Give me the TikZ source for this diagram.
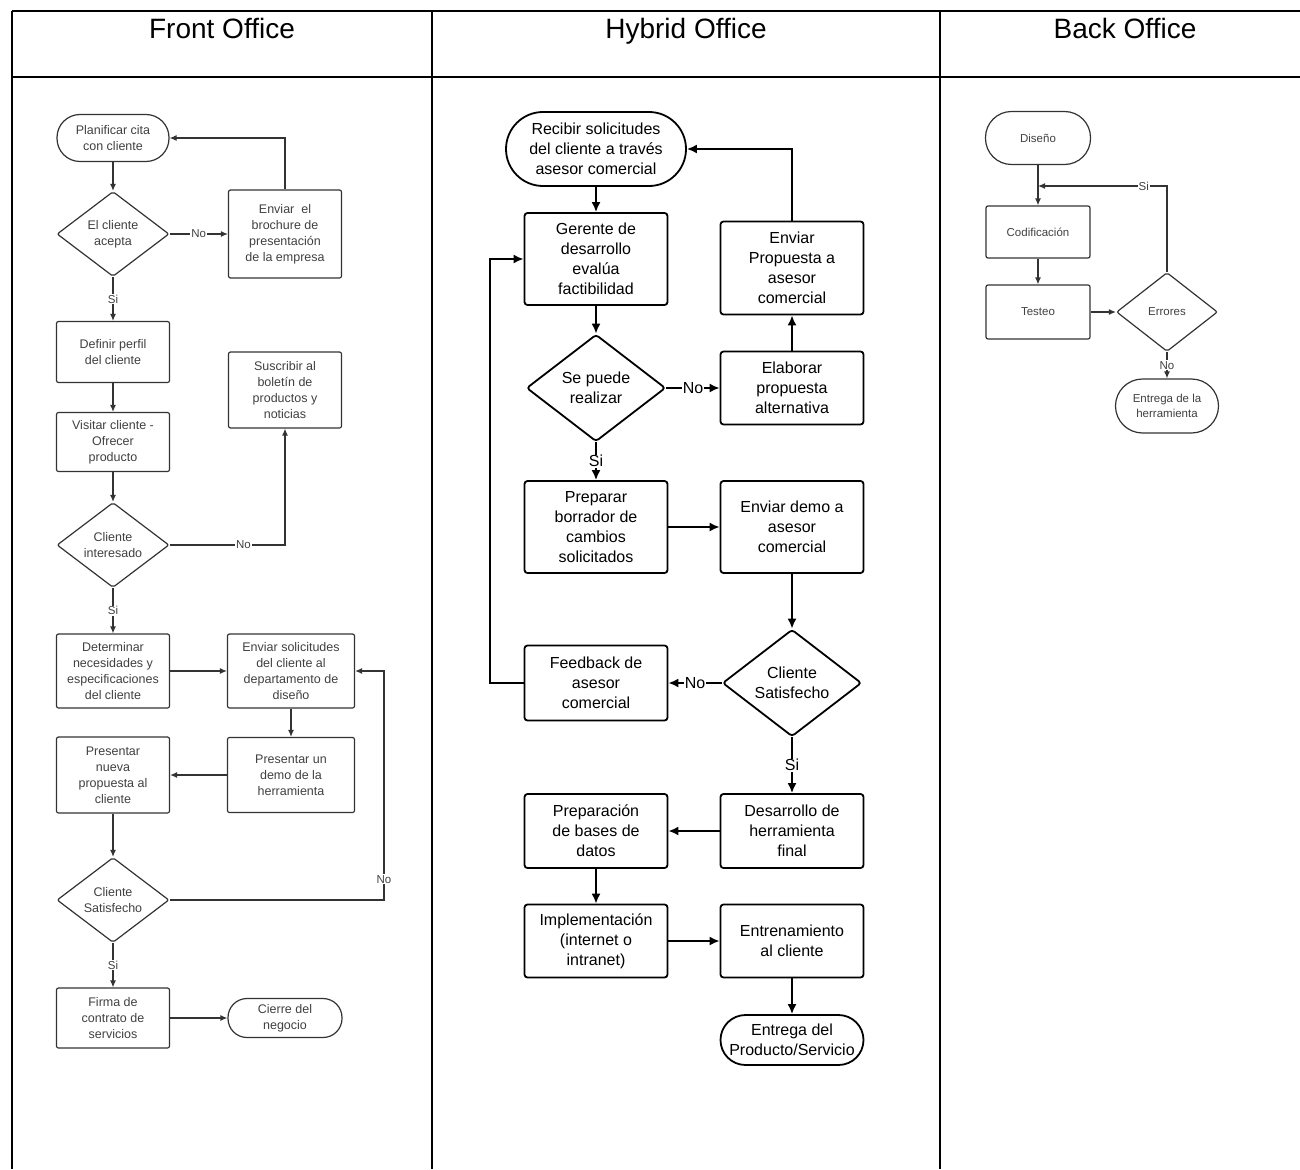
\documentclass[tikz,border=0pt]{standalone}
\usepackage{fontspec}
\setmainfont{Liberation Sans}
\usetikzlibrary{shapes.geometric,arrows.meta}
\tikzset{
  header/.style={anchor=base, font=\fontsize{28}{30}\selectfont},
  fbox/.style={draw=black!80, line width=1.2pt, rounded corners=2pt, minimum width=113pt,
    inner sep=1pt, align=center, text=black!75, font=\fontsize{12.5}{16}\selectfont},
  fterm/.style={fbox, rounded corners=#1}, fterm/.default=20pt,
  fdec/.style={fbox, diamond, aspect=1.3, inner sep=0pt, minimum width=112pt, minimum height=85pt},
  farrow/.style={draw=black!80, line width=1.2pt, -{Latex[length=7pt,width=6pt]}},
  flabel/.style={fill=white, inner sep=1pt, text=black!75, font=\fontsize{11.5}{13}\selectfont},
  hbox/.style={draw, line width=1.8pt, rounded corners=3pt, minimum width=143pt,
    inner sep=0pt, align=center, font=\fontsize{16}{20}\selectfont},
  hterm/.style={hbox, rounded corners=#1}, hterm/.default=25pt,
  hdec/.style={hbox, diamond, aspect=1.3, minimum width=139pt, minimum height=107pt},
  harrow/.style={line width=1.8pt, -{Latex[length=10pt,width=9pt]}},
  hlabel/.style={fill=white, inner sep=0.5pt, font=\fontsize{16}{18}\selectfont},
  backbox/.style={fbox, minimum width=104pt, font=\fontsize{11.5}{15}\selectfont},
  backterm/.style={backbox, rounded corners=#1}, backterm/.default=26pt,
  backdec/.style={backbox, diamond, aspect=1.3, inner sep=0pt, minimum width=101pt, minimum height=79pt}
}
\begin{document}
\begin{tikzpicture}[x=1pt,y=-1pt]
\useasboundingbox (0,0) rectangle (1300,1169);
% table
\draw [line width=1.5pt] (12,11) -- (1300,11);
\draw [line width=1.2pt] (12,77) -- (1300,77);
\foreach \x in {12,432,940}
  \draw [line width=1.3pt] (\x,11) -- (\x,1169);
\node [header] (front) at (222,39) {Front Office};
\node [header] (hybrid) at (686,39) {Hybrid Office};
\node [header] (back) at (1125,39) {Back Office};

% front office
\node [fterm=23pt, minimum width=112pt, minimum height=47pt] (plan) at (113,138) {Planificar cita\\con cliente};
\node [fdec] (acepta) at (113,234) {El cliente\\acepta};
\node [fbox, minimum height=88pt] (brochure) at (285,234) {Enviar\ \ el\\brochure de\\presentación\\de la empresa};
\node [fbox, minimum height=61pt] (perfil) at (113,352) {Definir perfil\\del cliente};
\node [fbox, minimum height=59pt] (visitar) at (113,442) {Visitar cliente -\\Ofrecer\\producto};
\node [fdec] (interesado) at (113,545) {Cliente\\interesado};
\node [fbox, minimum height=76pt] (boletin) at (285,390) {Suscribir al\\boletín de\\productos y\\noticias};
\node [fbox, minimum height=74pt] (necesidades) at (113,671) {Determinar\\necesidades y\\especificaciones\\del cliente};
\node [fbox, minimum width=127pt, minimum height=74pt] (solicitudes) at (291,671) {Enviar solicitudes\\del cliente al\\departamento de\\diseño};
\node [fbox, minimum width=127pt, minimum height=75pt] (demo) at (291,775) {Presentar un\\demo de la\\herramienta};
\node [fbox, minimum height=76pt] (nueva) at (113,775) {Presentar\\nueva\\propuesta al\\cliente};
\node [fdec] (fsatis) at (113,900) {Cliente\\Satisfecho};
\node [fbox, minimum height=60pt] (firma) at (113,1018) {Firma de\\contrato de\\servicios};
\node [fterm=19pt, minimum width=114pt, minimum height=39pt] (cierre) at (285,1018) {Cierre del\\negocio};
\coordinate (floop) at (384,900);

\draw [farrow] (plan) -- (acepta);
\draw [farrow] (acepta) -- node [flabel] {No} (brochure);
\draw [farrow] (brochure.north) |- (plan.east);
\draw [farrow] (acepta) -- node [flabel] {Si} (perfil);
\draw [farrow] (perfil) -- (visitar);
\draw [farrow] (visitar) -- (interesado);
\draw [farrow] (interesado.east) -| node [flabel, pos=0.32] {No} (boletin.south);
\draw [farrow] (interesado) -- node [flabel] {Si} (necesidades);
\draw [farrow] (necesidades) -- (solicitudes);
\draw [farrow] (solicitudes) -- (demo);
\draw [farrow] (demo) -- (nueva);
\draw [farrow] (nueva) -- (fsatis);
\draw [farrow] (fsatis.east) -- (floop) -- node [flabel, pos=0.09] {No} (floop |- solicitudes.east) -- (solicitudes.east);
\draw [farrow] (fsatis) -- node [flabel] {Si} (firma);
\draw [farrow] (firma) -- (cierre);

% hybrid office
\node [hterm=37pt, minimum width=180pt, minimum height=74pt] (recibir) at (596,149) {Recibir solicitudes\\del cliente a través\\asesor comercial};
\node [hbox, minimum height=92pt] (gerente) at (596,259) {Gerente de\\desarrollo\\evalúa\\factibilidad};
\node [hdec] (realizar) at (596,388) {Se puede\\realizar};
\node [hbox, minimum height=73pt] (alternativa) at (792,388) {Elaborar\\propuesta\\alternativa};
\node [hbox, minimum height=93pt] (propuesta) at (792,268) {Enviar\\Propuesta a\\asesor\\comercial};
\node [hbox, minimum height=92pt] (borrador) at (596,527) {Preparar\\borrador de\\cambios\\solicitados};
\node [hbox, minimum height=92pt] (envdemo) at (792,527) {Enviar demo a\\asesor\\comercial};
\node [hdec] (hsatis) at (792,683) {Cliente\\Satisfecho};
\node [hbox, minimum height=75pt] (feedback) at (596,683) {Feedback de\\asesor\\comercial};
\node [hbox, minimum height=74pt] (desarrollo) at (792,831) {Desarrollo de\\herramienta\\final};
\node [hbox, minimum height=74pt] (bases) at (596,831) {Preparación\\de bases de\\datos};
\node [hbox, minimum height=73pt] (implementacion) at (596,941) {Implementación\\(internet o\\intranet)};
\node [hbox, minimum height=73pt] (entrenamiento) at (792,941) {Entrenamiento\\al cliente};
\node [hterm=25pt, minimum height=50pt] (entrega) at (792,1040) {Entrega del\\Producto/Servicio};
\coordinate (hloop) at (490,683);

\draw [harrow] (recibir) -- (gerente);
\draw [harrow] (gerente) -- (realizar);
\draw [harrow] (realizar) -- node [hlabel] {No} (alternativa);
\draw [harrow] (alternativa) -- (propuesta);
\draw [harrow] (propuesta.north) |- (recibir.east);
\draw [harrow] (realizar) -- node [hlabel] {Si} (borrador);
\draw [harrow] (borrador) -- (envdemo);
\draw [harrow] (envdemo) -- (hsatis);
\draw [harrow] (hsatis) -- node [hlabel] {No} (feedback);
\draw [harrow] (feedback.west) -- (hloop) |- (gerente.west);
\draw [harrow] (hsatis) -- node [hlabel] {Si} (desarrollo);
\draw [harrow] (desarrollo) -- (bases);
\draw [harrow] (bases) -- (implementacion);
\draw [harrow] (implementacion) -- (entrenamiento);
\draw [harrow] (entrenamiento) -- (entrega);

% back office
\node [backterm=26pt, minimum width=105pt, minimum height=53pt] (diseno) at (1038,138) {Diseño};
\node [backbox, minimum height=52pt] (codificacion) at (1038,232) {Codificación};
\node [backbox, minimum height=54pt] (testeo) at (1038,312) {Testeo};
\node [backdec] (errores) at (1167,312) {Errores};
\node [backterm=27pt, minimum width=103pt, minimum height=54pt] (herramienta) at (1167,406) {Entrega de la\\herramienta};
\coordinate (bjoin) at (1038,186);

\draw [farrow] (diseno) -- (codificacion);
\draw [farrow] (errores.north) |- node [flabel, pos=0.59] {Si} (bjoin);
\draw [farrow] (codificacion) -- (testeo);
\draw [farrow] (testeo) -- (errores);
\draw [farrow] (errores) -- node [flabel] {No} (herramienta);
\end{tikzpicture}
\end{document}
